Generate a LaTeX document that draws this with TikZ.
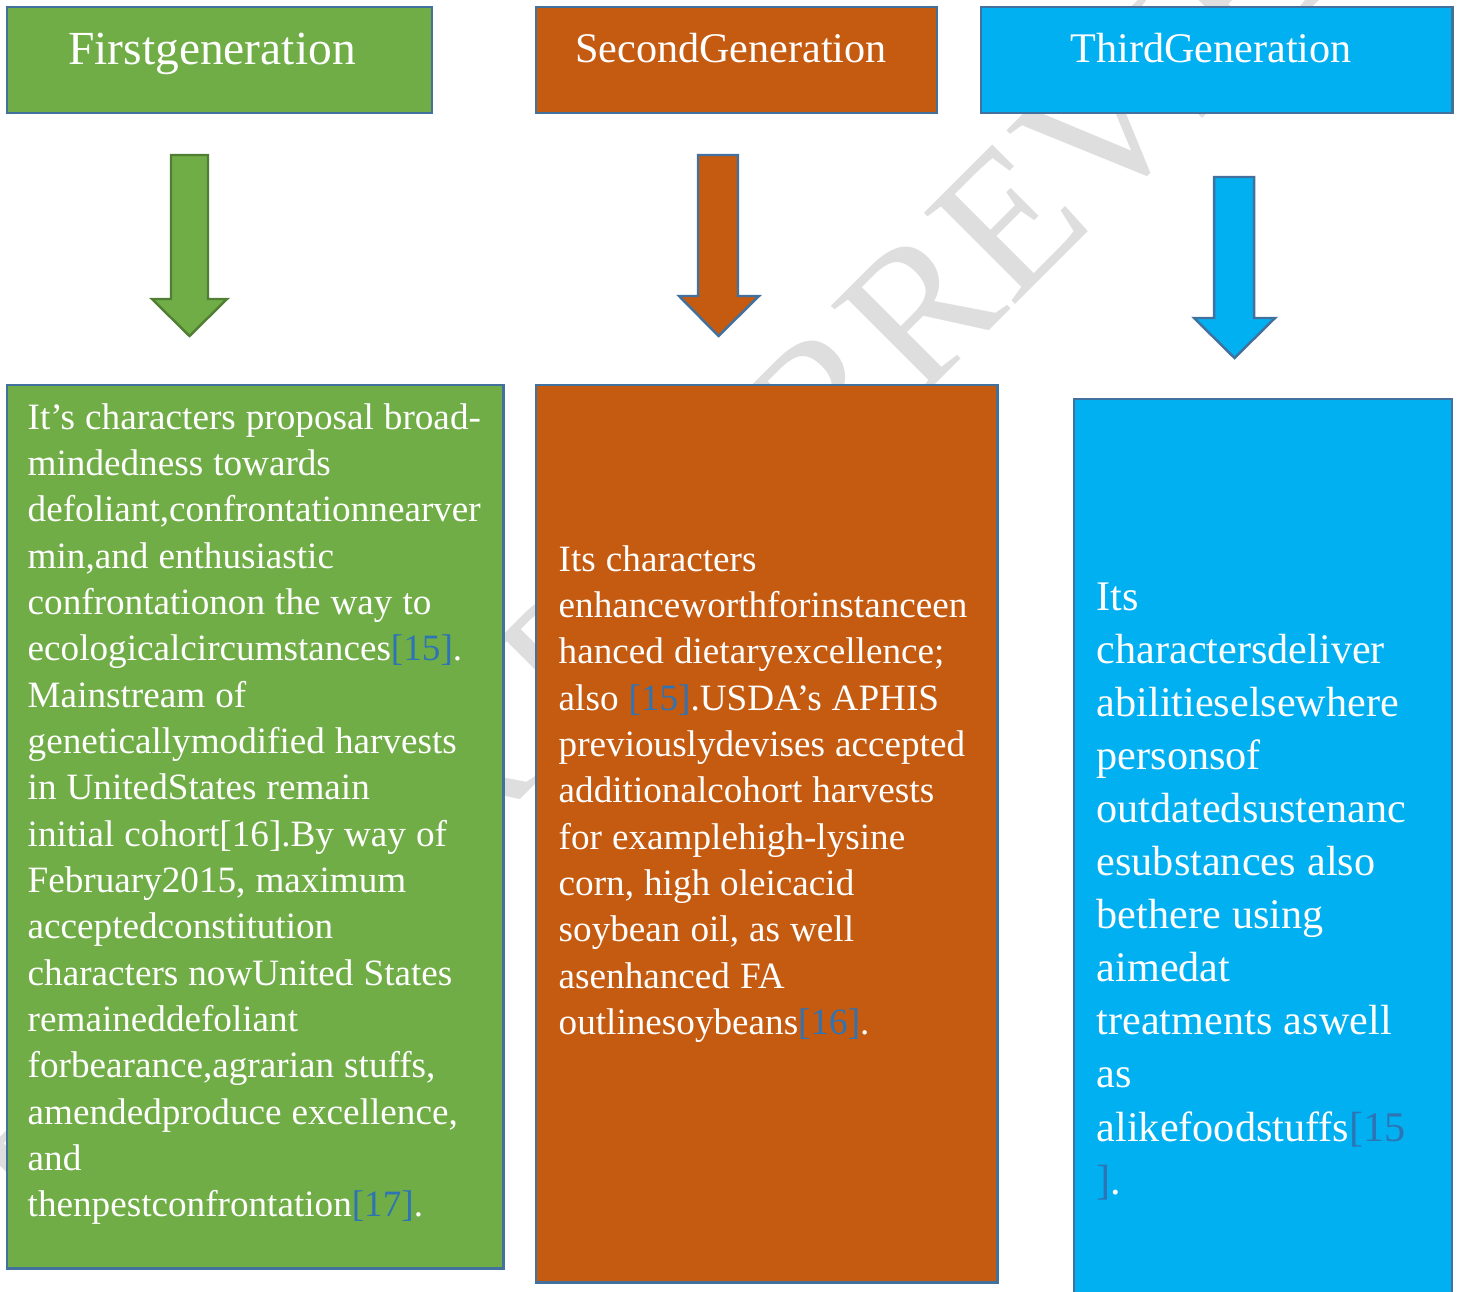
\documentclass[tikz,border=0pt]{standalone}
\usepackage{fontspec}
\setmainfont{Liberation Serif}
\definecolor{gfill}{HTML}{70AD47}
\definecolor{gline}{HTML}{507E32}
\definecolor{ofill}{HTML}{C55A11}
\definecolor{bfill}{HTML}{00B0F0}
\definecolor{bord}{HTML}{41719C}
\definecolor{citeblue}{HTML}{2E74B5}
\definecolor{wmgray}{RGB}{222,222,222}
\newcommand\refc[1]{\textcolor{citeblue}{#1}}
\newcommand\tsp{\spaceskip=0.27em\relax}
\tikzset{
  box/.style={draw=bord, line width=0.7pt, inner sep=0pt, outer sep=0pt, anchor=north west},
  hdrtxt/.style={text=white, inner sep=0pt, anchor=base, font=\fontsize{12}{14}\selectfont},
  bodytxt/.style={text=white, inner sep=0pt, anchor=base west, align=left, font=\fontsize{10.57}{13.18}\selectfont},
  bodytxtbig/.style={text=white, inner sep=0pt, anchor=base west, align=left, font=\fontsize{12}{15.1}\selectfont},
  wm/.style={text=wmgray, inner sep=0pt, rotate=45, font=\fontsize{56}{56}\selectfont},
  blockarrow/.style={line width=0.7pt, line join=miter}
}
\begin{document}
\begin{tikzpicture}[x=0.01cm,y=-0.01cm]
\useasboundingbox (0,0) rectangle (1458,1291);
\clip (0,0) rectangle (1458,1291);
% watermark
\coordinate (wmR) at (918,402);
\node[wm, anchor=base west] (wmB) at (wmR) {REVIEW};
\node[wm, anchor=base east] (wmA) at (wmR) {UNDER PEER\hspace{0.42em}};
% headers
\node[box, fill=gfill, minimum width=4.25cm, minimum height=1.06cm] (h1) at (7,7) {};
\node[box, fill=ofill, minimum width=4.01cm, minimum height=1.06cm] (h2) at (536,7) {};
\node[box, fill=bfill, minimum width=4.71cm, minimum height=1.06cm] (h3) at (981,7) {};
\node[hdrtxt, font=\fontsize{13.5}{15}\selectfont] (t1) at (212,65) {Firstgeneration};
\node[hdrtxt] (t2) at (731,63) {SecondGeneration};
\node[hdrtxt] (t3) at (1211,63) {ThirdGeneration};
% block arrows
\filldraw[blockarrow, fill=gfill, draw=gline] (171,155) -- (208,155) -- (208,299) -- (227,299) -- (189.5,336) -- (152,299) -- (171,299) -- cycle;
\filldraw[blockarrow, fill=ofill, draw=bord] (698,155) -- (738,155) -- (738,296) -- (759,296) -- (718.5,336) -- (679,296) -- (698,296) -- cycle;
\filldraw[blockarrow, fill=bfill, draw=bord] (1214,177) -- (1254,177) -- (1254,318) -- (1275,318) -- (1234.5,358) -- (1194,318) -- (1214,318) -- cycle;
% bodies
\node[box, fill=gfill, minimum width=4.96cm, minimum height=8.83cm] (b1) at (7,385) {};
\node[box, fill=ofill, minimum width=4.61cm, minimum height=8.97cm] (b2) at (536,385) {};
\node[box, fill=bfill, minimum width=3.78cm, minimum height=9.2cm] (b3) at (1074,399) {};
\node[bodytxt, text width=4.75cm] (x1) at (27,429) {\tsp It’s characters proposal broad-\\
mindedness towards\\
defoliant,confrontationnearver\\
min,and enthusiastic\\
confrontationon the way to\\
ecologicalcircumstances\refc{[15]}.\\
Mainstream of\\
geneticallymodified harvests\\
in UnitedStates remain\\
initial cohort[16].By way of\\
February2015, maximum\\
acceptedconstitution\\
characters nowUnited States\\
remaineddefoliant\\
forbearance,agrarian stuffs,\\
amendedproduce excellence,\\
and\\
thenpestconfrontation\refc{[17]}.};
\node[bodytxt, text width=4.4cm] (x2) at (558,571) {\tsp Its characters\\
enhanceworthforinstanceen\\
hanced dietaryexcellence;\\
also \refc{[15]}.USDA’s APHIS\\
previouslydevises accepted\\
additionalcohort harvests\\
for examplehigh-lysine\\
corn, high oleicacid\\
soybean oil, as well\\
asenhanced FA\\
outlinesoybeans\refc{[16]}.};
\node[bodytxtbig, text width=3.5cm] (x3) at (1096,610) {\tsp Its\\
charactersdeliver\\
abilitieselsewhere\\
personsof\\
outdatedsustenanc\\
esubstances also\\
bethere using\\
aimedat\\
treatments aswell\\
as\\
alikefoodstuffs\refc{[15}\\
\refc{]}.};
\end{tikzpicture}
\end{document}
